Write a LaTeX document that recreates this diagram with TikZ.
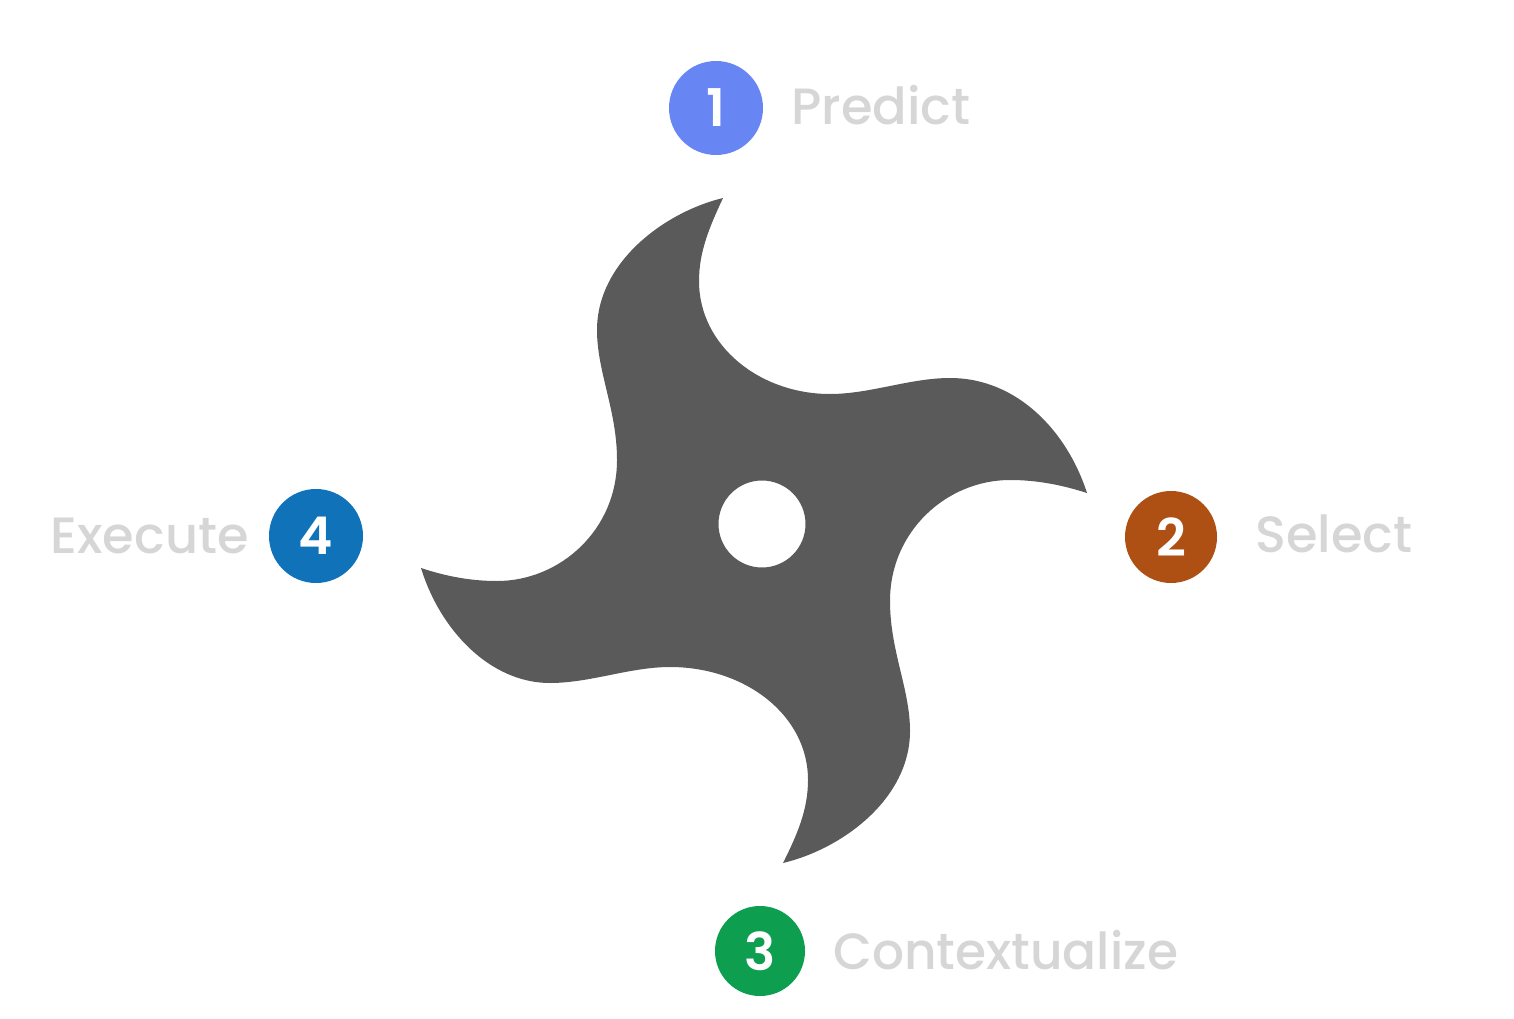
\documentclass[tikz,border=0pt]{standalone}
\usepackage{fontspec}
\setmainfont{Poppins}
\newfontfamily\labelfont{Poppins Medium}
\newfontfamily\digitfont{Poppins SemiBold}
\usepackage{tikz}
\usetikzlibrary{positioning}
\definecolor{bladegray}{RGB}{90,90,90}
\definecolor{predictblue}{RGB}{104,133,244}
\definecolor{selectbrown}{RGB}{174,80,20}
\definecolor{contextgreen}{RGB}{14,158,80}
\definecolor{executeblue}{RGB}{16,115,186}
\definecolor{labelgray}{RGB}{214,214,214}

\begin{document}
\begin{tikzpicture}[
    x=1pt, y=-1pt,
    badge/.style={circle, inner sep=0pt, minimum size=92pt, text=white, font=\fontsize{52}{52}\digitfont},
    steplabel/.style={text=labelgray, inner sep=0pt, font=\fontsize{51}{51}\labelfont}
]

    \useasboundingbox (0,0) rectangle (1514,1019);

    % Star
    \fill[bladegray, even odd rule] (723,198)
        .. controls (665,212) and (597,262) .. (597,330)
        .. controls (597,372) and (617,410) .. (617,460)
        .. controls (617,530) and (560,581) .. (497,581)
        .. controls (470,581) and (445,576) .. (421,568)
        .. controls (440,630) and (490,683) .. (550,683)
        .. controls (590,683) and (630,667) .. (670,667)
        .. controls (745,667) and (808,715) .. (808,780)
        .. controls (808,810) and (797,835) .. (783,863)
        .. controls (842,849) and (910,799) .. (910,731)
        .. controls (910,689) and (890,651) .. (890,601)
        .. controls (890,531) and (947,480) .. (1010,480)
        .. controls (1037,480) and (1062,485) .. (1087,493)
        .. controls (1067,431) and (1017,378) .. (950,378)
        .. controls (910,378) and (870,394) .. (830,394)
        .. controls (760,394) and (699,346) .. (699,281)
        .. controls (699,251) and (710,226) .. (723,198) -- cycle
        (762,524) circle (43.5);

    % Steps
    \node[badge, fill=predictblue, minimum size=94pt] (predict) at (716,108) {1};
    \node[badge, fill=selectbrown] (select) at (1171,537) {2};
    \node[badge, fill=contextgreen, minimum size=90pt] (context) at (760,951) {3};
    \node[badge, fill=executeblue, minimum size=94pt] (execute) at (316,536) {4};

    % Labels
    \node[steplabel, right=28pt of predict, yshift=3pt] (predictlabel) {Predict};
    \node[steplabel, right=38pt of select, yshift=3pt] (selectlabel) {Select};
    \node[steplabel, right=28pt of context, yshift=1pt, xscale=0.985] (contextlabel) {Contextualize};
    \node[steplabel, left=20pt of execute] (executelabel) {Execute};

\end{tikzpicture}
\end{document}
